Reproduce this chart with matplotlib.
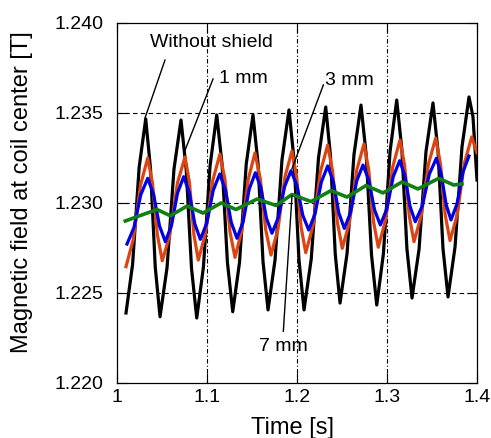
import matplotlib
matplotlib.use('Agg')
import matplotlib.pyplot as plt

plt.rcParams['font.family'] = ['Liberation Sans', 'DejaVu Sans']

# Field at coil center, sampled at the peaks, troughs and flanks of each cycle
t_none = [1.0100, 1.0173, 1.0246, 1.0319, 1.0372, 1.0425, 1.0478, 1.0556, 1.0633, 1.0711,
          1.0769, 1.0828, 1.0886, 1.0960, 1.1034, 1.1108, 1.1167, 1.1227, 1.1286, 1.1361,
          1.1436, 1.1511, 1.1567, 1.1622, 1.1678, 1.1756, 1.1833, 1.1911, 1.1967, 1.2022,
          1.2078, 1.2158, 1.2239, 1.2319, 1.2372, 1.2425, 1.2478, 1.2556, 1.2633, 1.2711,
          1.2769, 1.2828, 1.2886, 1.2960, 1.3034, 1.3108, 1.3165, 1.3221, 1.3278, 1.3356,
          1.3433, 1.3511, 1.3567, 1.3622, 1.3678, 1.3756, 1.3833, 1.3911, 1.3955, 1.4000]
b_none = [1.22389, 1.22658, 1.23198, 1.23467, 1.23192, 1.22643, 1.22368, 1.22641, 1.23188, 1.23461,
          1.23186, 1.22636, 1.22361, 1.22643, 1.23207, 1.23489, 1.23216, 1.22669, 1.22396, 1.22669,
          1.23216, 1.23489, 1.23218, 1.22677, 1.22406, 1.22684, 1.23239, 1.23517, 1.23239, 1.22684,
          1.22406, 1.22688, 1.23251, 1.23533, 1.23261, 1.22716, 1.22444, 1.22719, 1.23269, 1.23544,
          1.23266, 1.22711, 1.22433, 1.22718, 1.23287, 1.23572, 1.23297, 1.22747, 1.22472, 1.22743,
          1.23285, 1.23556, 1.23286, 1.22747, 1.22478, 1.22756, 1.23311, 1.23589, 1.23480, 1.23128]

t_1mm = [1.0100, 1.0180, 1.0261, 1.0341, 1.0395, 1.0449, 1.0503, 1.0587, 1.0672, 1.0756,
         1.0805, 1.0854, 1.0903, 1.0983, 1.1064, 1.1144, 1.1200, 1.1255, 1.1311, 1.1385,
         1.1459, 1.1533, 1.1592, 1.1652, 1.1711, 1.1789, 1.1866, 1.1944, 1.1995, 1.2046,
         1.2097, 1.2178, 1.2260, 1.2341, 1.2395, 1.2449, 1.2503, 1.2583, 1.2664, 1.2744,
         1.2797, 1.2850, 1.2903, 1.2983, 1.3064, 1.3144, 1.3196, 1.3248, 1.3300, 1.3380,
         1.3461, 1.3541, 1.3594, 1.3647, 1.3700, 1.3780, 1.3861, 1.3941, 1.4000]
b_1mm = [1.22646, 1.22797, 1.23099, 1.23250, 1.23107, 1.22822, 1.22679, 1.22823, 1.23112, 1.23256,
         1.23113, 1.22826, 1.22683, 1.22830, 1.23125, 1.23272, 1.23128, 1.22841, 1.22698, 1.22843,
         1.23133, 1.23278, 1.23136, 1.22853, 1.22711, 1.22856, 1.23145, 1.23289, 1.23148, 1.22865,
         1.22724, 1.22874, 1.23173, 1.23322, 1.23178, 1.22891, 1.22748, 1.22893, 1.23183, 1.23328,
         1.23184, 1.22897, 1.22754, 1.22903, 1.23201, 1.23350, 1.23209, 1.22926, 1.22785, 1.22929,
         1.23217, 1.23361, 1.23218, 1.22933, 1.22791, 1.22935, 1.23223, 1.23367, 1.23278]

t_3mm = [1.0111, 1.0188, 1.0264, 1.0341, 1.0406, 1.0472, 1.0537, 1.0605, 1.0673, 1.0741,
         1.0803, 1.0864, 1.0926, 1.0998, 1.1069, 1.1141, 1.1205, 1.1269, 1.1333, 1.1401,
         1.1469, 1.1537, 1.1599, 1.1660, 1.1722, 1.1792, 1.1863, 1.1933, 1.1999, 1.2064,
         1.2130, 1.2200, 1.2271, 1.2341, 1.2403, 1.2464, 1.2526, 1.2595, 1.2664, 1.2733,
         1.2797, 1.2862, 1.2926, 1.2998, 1.3069, 1.3141, 1.3199, 1.3256, 1.3314, 1.3392,
         1.3470, 1.3548, 1.3602, 1.3657, 1.3711, 1.3778, 1.3844, 1.3911]
b_3mm = [1.22772, 1.22863, 1.23046, 1.23137, 1.23049, 1.22873, 1.22785, 1.22875, 1.23056, 1.23146,
         1.23059, 1.22885, 1.22798, 1.22889, 1.23070, 1.23161, 1.23072, 1.22893, 1.22804, 1.22895,
         1.23077, 1.23168, 1.23084, 1.22916, 1.22832, 1.22919, 1.23092, 1.23179, 1.23097, 1.22932,
         1.22850, 1.22939, 1.23117, 1.23206, 1.23119, 1.22946, 1.22859, 1.22947, 1.23123, 1.23211,
         1.23128, 1.22961, 1.22878, 1.22967, 1.23146, 1.23235, 1.23150, 1.22981, 1.22896, 1.22984,
         1.23160, 1.23248, 1.23162, 1.22991, 1.22906, 1.22995, 1.23172, 1.23261]

t_7mm = [1.0092, 1.0444, 1.0592, 1.0778, 1.0956, 1.1156, 1.1322, 1.1556, 1.1767, 1.1944,
         1.2156, 1.2378, 1.2556, 1.2767, 1.2956, 1.3167, 1.3344, 1.3574, 1.3741, 1.3833]
b_7mm = [1.22900, 1.22964, 1.22929, 1.22983, 1.22944, 1.23000, 1.22964, 1.23022, 1.22986, 1.23047,
         1.23008, 1.23069, 1.23033, 1.23097, 1.23056, 1.23117, 1.23078, 1.23137, 1.23100, 1.23106]

x_ticks = [1.0, 1.1, 1.2, 1.3, 1.4]
x_tick_labels = ['1', '1.1', '1.2', '1.3', '1.4']
y_ticks = [1.220, 1.225, 1.230, 1.235, 1.240]

fig = plt.figure(figsize=(4.91, 4.38), dpi=100)
ax = fig.add_axes([0.2383, 0.1256, 0.7332, 0.8219])

# dash-dot grid at the inner ticks
for x in x_ticks[1:-1]:
    ax.axvline(x, color='black', lw=0.8, ls=(0, (4, 2, 1, 2)), zorder=1)
for y in y_ticks[1:-1]:
    ax.axhline(y, color='black', lw=0.8, ls=(0, (4, 3)), zorder=1)

ax.plot(t_none, b_none, color='black', lw=2.3, zorder=3)
ax.plot(t_1mm, b_1mm, color='#dd4411', lw=2.3, zorder=4)
ax.plot(t_3mm, b_3mm, color='#0000e6', lw=2.3, zorder=5)
ax.plot(t_7mm, b_7mm, color='#108010', lw=2.6, zorder=6)

# labels with leader lines
ax.text(1.0367, 1.23894, 'Without shield', fontsize=14, va='center', ha='left')
ax.plot([1.0533, 1.0311], [1.23794, 1.23472], color='black', lw=1, zorder=7)
ax.text(1.1133, 1.23694, '1 mm', fontsize=14, va='center', ha='left')
ax.plot([1.1067, 1.0744], [1.23689, 1.23278], color='black', lw=1, zorder=7)
ax.text(1.2311, 1.23683, '3 mm', fontsize=14, va='center', ha='left')
ax.plot([1.2293, 1.1944], [1.23656, 1.2319], color='black', lw=1, zorder=7)
ax.text(1.1581, 1.22202, '7 mm', fontsize=14, va='center', ha='left')
ax.plot([1.1848, 1.1944], [1.22287, 1.23039], color='black', lw=1, zorder=7)

ax.set_xlim(1.0, 1.4)
ax.set_ylim(1.220, 1.240)
ax.set_xticks(x_ticks)
ax.set_xticklabels(x_tick_labels)
ax.set_yticks(y_ticks)
ax.set_yticklabels([f'{v:.3f}' for v in y_ticks])
ax.tick_params(direction='in', length=7, width=0.8, labelsize=14,
               top=True, right=True)
ax.tick_params(axis='y', pad=10)
ax.tick_params(axis='x', pad=4)
for s in ax.spines.values():
    s.set_linewidth(0.9)

ax.set_xlabel('Time [s]', fontsize=17)
ax.set_ylabel('Magnetic field at coil center [T]', fontsize=17)
ax.xaxis.set_label_coords(0.4875, -0.094)
ax.yaxis.set_label_coords(-0.233, 0.53)

fig.savefig('out.png', dpi=100)
